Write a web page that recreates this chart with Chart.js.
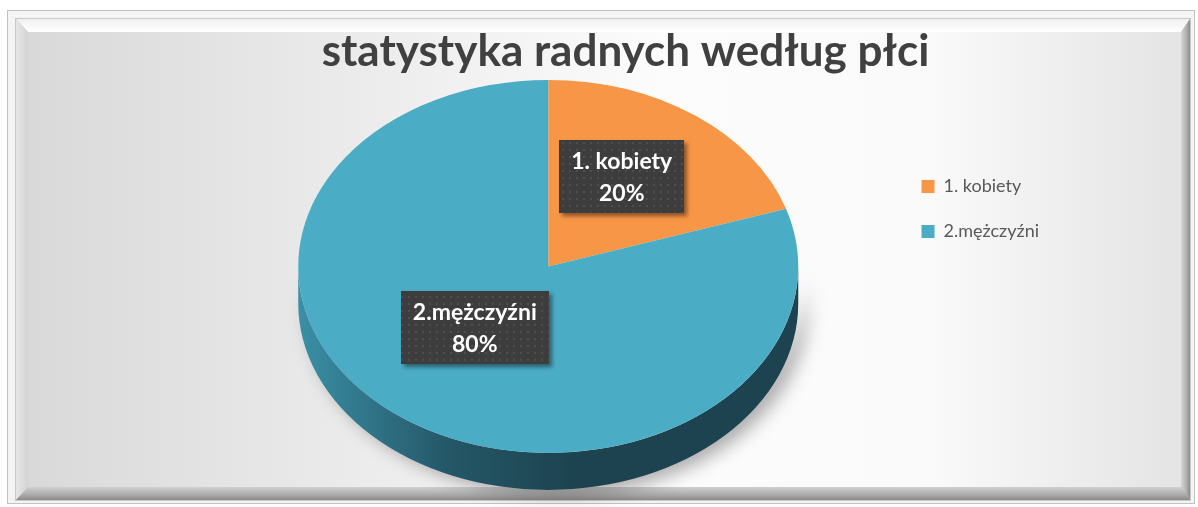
<!DOCTYPE html>
<html lang="pl">
<head>
<meta charset="utf-8">
<title>statystyka radnych według płci</title>
<script src="https://cdn.jsdelivr.net/npm/chart.js@4.4.1/dist/chart.umd.min.js"></script>
<style>
    html, body { margin:0; padding:0; background:#fff; }
    #wrap { width:1198px; height:507px; }
</style>
</head>
<body>
<div id="wrap"><canvas id="pieChart" width="1198" height="507"></canvas></div>
<script>
const chartTitle  = 'statystyka radnych według płci';
const categories  = ['1. kobiety', '2.mężczyźni'];
const shares      = [20, 80];
const sliceColors = ['#F79646', '#4BACC6'];
const sideColors  = [['#c4702f', '#8a4a1a', '#6e3a14'], ['#3b8fa6', '#245767', '#1d4350']];

const TILT  = 0.746;   // vertical squash of the pie top
const DEPTH = 37;      // thickness of the pie side

// dotted fill for the data labels
function dotPattern(ctx) {
    const c = document.createElement('canvas');
    c.width = 7; c.height = 7;
    const p = c.getContext('2d');
    p.fillStyle = '#3d3d3d'; p.fillRect(0, 0, 7, 7);
    p.fillStyle = '#4e4e4e'; p.fillRect(2, 2, 2, 2);
    return ctx.createPattern(c, 'repeat');
}

const framePlugin = {
    id: 'frame',
    beforeDraw(chart) {
        const { ctx, width, height } = chart;
        ctx.save();
        ctx.fillStyle = '#fff';
        ctx.fillRect(0, 0, width, height);

        // outer thin border
        ctx.fillStyle = '#c2c2c2';
        ctx.fillRect(7, 10, 1188, 494);
        ctx.fillStyle = '#f4f4f4';
        ctx.fillRect(8, 11, 1186, 492);
        ctx.fillStyle = '#c8c8c8';
        ctx.fillRect(15, 18, 1176, 483);

        const o = { l:16, t:19, r:1190, b:500 };
        const i = { l:28, t:32, r:1181, b:487 };
        const quad = (pts, fill) => {
            ctx.beginPath();
            pts.forEach(([x, y], k) => k ? ctx.lineTo(x, y) : ctx.moveTo(x, y));
            ctx.closePath();
            ctx.fillStyle = fill;
            ctx.fill();
        };
        let g = ctx.createLinearGradient(0, o.t, 0, i.t);
        g.addColorStop(0, '#f0f0f0'); g.addColorStop(1, '#ffffff');
        quad([[o.l, o.t], [o.r, o.t], [i.r, i.t], [i.l, i.t]], g);
        g = ctx.createLinearGradient(o.l, 0, i.l, 0);
        g.addColorStop(0, '#e6e6e6'); g.addColorStop(1, '#d4d4d4');
        quad([[o.l, o.t], [i.l, i.t], [i.l, i.b], [o.l, o.b]], g);
        g = ctx.createLinearGradient(i.r, 0, o.r, 0);
        g.addColorStop(0, '#d6d6d6'); g.addColorStop(0.6, '#b0b0b0'); g.addColorStop(1, '#8a8a8a');
        quad([[i.r, i.t], [o.r, o.t], [o.r, o.b], [i.r, i.b]], g);
        g = ctx.createLinearGradient(0, i.b, 0, o.b);
        g.addColorStop(0, '#d0d0d0'); g.addColorStop(0.6, '#ababab'); g.addColorStop(1, '#8a8a8a');
        quad([[i.l, i.b], [i.r, i.b], [o.r, o.b], [o.l, o.b]], g);

        // face of the chart
        g = ctx.createLinearGradient(i.l, 0, i.r, 0);
        g.addColorStop(0, '#d9d9d9');
        g.addColorStop(0.28, '#ebebeb');
        g.addColorStop(0.55, '#fcfcfc');
        g.addColorStop(0.78, '#fafafa');
        g.addColorStop(1, '#e4e4e4');
        ctx.fillStyle = g;
        ctx.fillRect(i.l, i.t, i.r - i.l, i.b - i.t);
        ctx.restore();
    }
};

const pie3dPlugin = {
    id: 'pie3d',
    beforeDatasetsDraw(chart) {
        const { ctx } = chart;
        const arcs = chart.getDatasetMeta(0).data;
        ctx.save();
        arcs.forEach((arc, idx) => {
            const { x, y, outerRadius: r, startAngle, endAngle } = arc;
            [[0, Math.PI], [2 * Math.PI, 3 * Math.PI]].forEach(([lo, hi]) => {
                const a0 = Math.max(startAngle, lo), a1 = Math.min(endAngle, hi);
                if (a1 <= a0) return;
                const g = ctx.createLinearGradient(x - r, 0, x + r, 0);
                const sc = sideColors[idx];
                g.addColorStop(0, sc[0]); g.addColorStop(0.3, sc[1]); g.addColorStop(0.55, sc[2]); g.addColorStop(1, sc[2]);
                ctx.beginPath();
                ctx.ellipse(x, y, r, r * TILT, 0, a0, a1);
                ctx.ellipse(x, y + DEPTH, r, r * TILT, 0, a1, a0, true);
                ctx.closePath();
                ctx.shadowColor = 'rgba(0,0,0,0.32)';
                ctx.shadowBlur = 18;
                ctx.shadowOffsetX = 9;
                ctx.shadowOffsetY = 5;
                ctx.fillStyle = g;
                ctx.fill();
            });
        });
        ctx.restore();
    },
    beforeDatasetDraw(chart) {
        const { ctx } = chart;
        const arc = chart.getDatasetMeta(0).data[0];
        ctx.save();
        ctx.translate(arc.x, arc.y);
        ctx.scale(1, TILT);
        ctx.translate(-arc.x, -arc.y);
    },
    afterDatasetDraw(chart) {
        chart.ctx.restore();
    },
    afterDatasetsDraw(chart) {
        const { ctx } = chart;
        const arcs  = chart.getDatasetMeta(0).data;
        const vals  = chart.data.datasets[0].data;
        const total = vals.reduce((a, b) => a + b, 0);
        const fill  = dotPattern(ctx);
        ctx.save();
        ctx.font = 'bold 23px Lato';
        ctx.textAlign = 'center';
        ctx.textBaseline = 'middle';
        arcs.forEach((arc, idx) => {
            const mid = (arc.startAngle + arc.endAngle) / 2;
            const lx = arc.x + arc.outerRadius * 0.5 * Math.cos(mid);
            const ly = arc.y + arc.outerRadius * 0.5 * TILT * Math.sin(mid) - 14;
            const line1 = chart.data.labels[idx];
            const line2 = Math.round(vals[idx] / total * 100) + '%';
            const w = Math.max(ctx.measureText(line1).width, ctx.measureText(line2).width) + 24;
            const h = 73;
            ctx.save();
            ctx.shadowColor = 'rgba(0,0,0,0.45)';
            ctx.shadowBlur = 4;
            ctx.shadowOffsetX = 3;
            ctx.shadowOffsetY = 3;
            ctx.fillStyle = fill;
            ctx.fillRect(Math.round(lx - w / 2), Math.round(ly - h / 2), Math.round(w), h);
            ctx.restore();
            ctx.fillStyle = '#ffffff';
            ctx.fillText(line1, lx, ly - 15);
            ctx.fillText(line2, lx, ly + 17);
        });
        ctx.restore();
    }
};

Chart.defaults.font.family = 'Lato';

new Chart(document.getElementById('pieChart'), {
    type: 'pie',
    data: {
        labels: categories,
        datasets: [{
            data: shares,
            backgroundColor: sliceColors,
            borderWidth: 0,
            radius: 250,
            clip: false
        }]
    },
    options: {
        responsive: false,
        animation: false,
        devicePixelRatio: 1,
        events: [],
        layout: { padding: { left:202, right:149, top:10, bottom:53 } },
        plugins: {
            title: {
                display: true,
                text: chartTitle,
                color: '#404040',
                font: { size:44, weight:'bold', family:'Lato', lineHeight:1.2 },
                padding: { top:15, bottom:1 }
            },
            legend: {
                position: 'right',
                align: 'start',
                // empty legend title only pushes the entries down
                title: { display: true, text: '', padding: { top:126, bottom:0 } },
                labels: {
                    boxWidth: 13,
                    boxHeight: 13,
                    padding: 27,
                    color: '#595959',
                    font: { size:18, family:'Lato' }
                }
            },
            tooltip: { enabled: false }
        }
    },
    plugins: [framePlugin, pie3dPlugin]
});
</script>
</body>
</html>
